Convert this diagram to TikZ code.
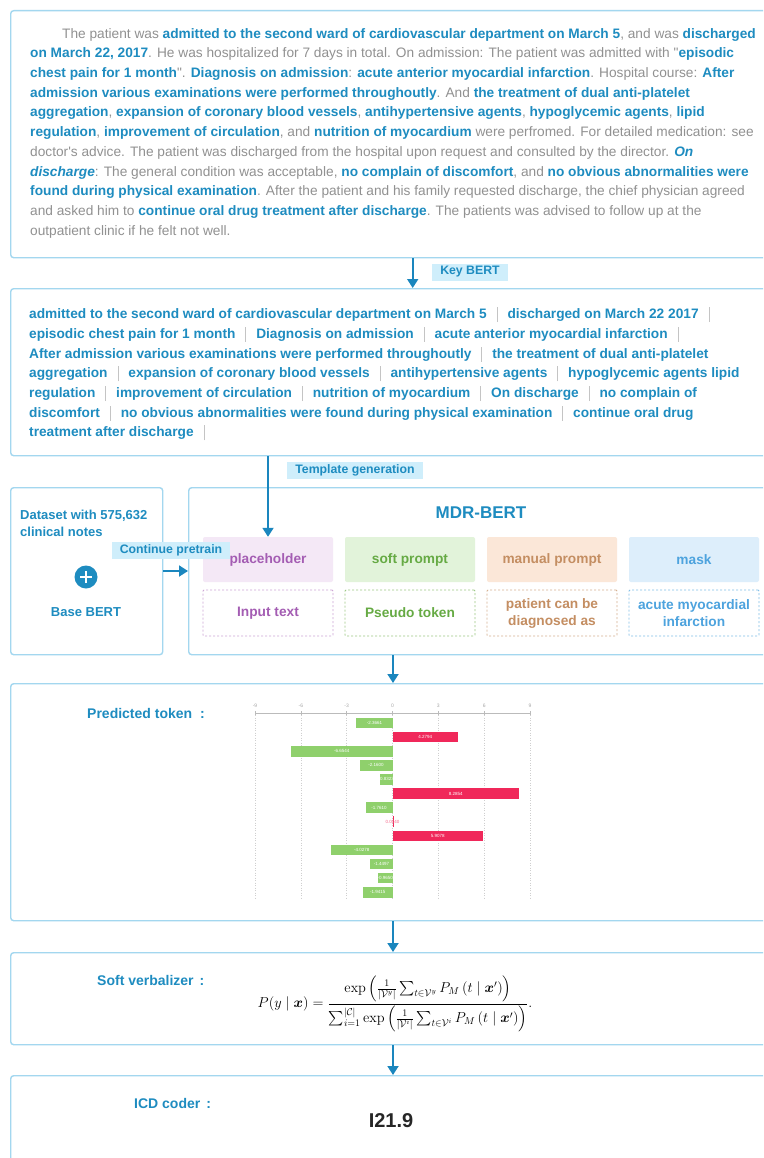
\documentclass[tikz,border=0pt]{standalone}
\usepackage[no-math]{fontspec}
\setmainfont{Liberation Sans}[Ligatures=TeXOff]
\usepackage{amsmath}
\usetikzlibrary{arrows.meta}

\definecolor{kblue}{HTML}{1E8CC0}
\definecolor{flowblue}{HTML}{1A86BE}
\definecolor{frame}{HTML}{A3D7EF}
\definecolor{tagfill}{HTML}{CFEEFB}
\definecolor{txtgray}{HTML}{919191}
\definecolor{sepgray}{HTML}{C4C4C4}
\definecolor{phfill}{HTML}{F4E8F6}
\definecolor{phtext}{HTML}{A45DB3}
\definecolor{spfill}{HTML}{E2F3DA}
\definecolor{sptext}{HTML}{66AA44}
\definecolor{mpfill}{HTML}{FBE7D8}
\definecolor{mptext}{HTML}{C48E62}
\definecolor{mkfill}{HTML}{DDEEFB}
\definecolor{mktext}{HTML}{4DA3DE}
\definecolor{barpos}{HTML}{F0285A}
\definecolor{barneg}{HTML}{8FD06C}
\definecolor{axisgray}{HTML}{BBBBBB}

% bold blue key phrase
\newcommand\kw[1]{\textbf{\color{kblue}#1}}
% separator between extracted phrases
\newcommand\sepbar{\hspace{10pt}{\color{sepgray}\rule[-3.5pt]{0.8pt}{15pt}}\hspace{10pt}}

\tikzset{
  panel/.style={draw=frame, line width=1.4pt, rounded corners=3pt, fill=white,
    inner sep=0pt, anchor=north west},
  txt/.style={inner sep=0pt, align=left, anchor=north west,
    font={\fontsize{13.7}{19.7}\selectfont}, text=txtgray},
  tag/.style={fill=tagfill, text=kblue, inner xsep=8pt, inner ysep=0pt,
    minimum height=17pt, font={\bfseries\fontsize{12.3}{14}\selectfont}},
  heading/.style={text=kblue, inner sep=0pt, anchor=west,
    font={\bfseries\fontsize{14}{17}\selectfont}},
  flow/.style={draw=flowblue, line width=1.8pt,
    -{Triangle[width=11pt,length=9pt]}},
  slot/.style={rounded corners=2pt, minimum width=130pt, minimum height=45pt,
    inner sep=0pt, align=center, font={\bfseries\fontsize{13.7}{17}\selectfont}},
  slotdash/.style={slot, line width=0.9pt, dash pattern=on 2pt off 2pt,
    rounded corners=1pt, minimum height=46pt},
  barlbl/.style={text=white, inner sep=0pt, font={\fontsize{4.5}{5}\selectfont}},
  ticklbl/.style={text=txtgray!80, inner sep=0pt, font={\fontsize{5}{6}\selectfont}},
}

\begin{document}
\begin{tikzpicture}[x=1pt,y=-1pt]
\useasboundingbox (0,0) rectangle (763,1158);
\clip (0,0) rectangle (763,1158);
\fill[white] (0,0) rectangle (763,1158);

% ---------- clinical note ----------
\node[panel, minimum width=770pt, minimum height=247pt] (src) at (10,10) {};
\node[txt] (srctext) at (30,28) {%
\hspace*{32pt}The patient was \kw{admitted to the second ward of cardiovascular department on March 5}, and was \kw{discharged}\\
\kw{on March 22, 2017}. He was hospitalized for 7 days in total. On admission: The patient was admitted with "\kw{episodic}\\
\kw{chest pain for 1 month}". \kw{Diagnosis on admission}: \kw{acute anterior myocardial infarction}. Hospital course: \kw{After}\\
\kw{admission various examinations were performed throughoutly}. And \kw{the treatment of dual anti-platelet}\\
\kw{aggregation}, \kw{expansion of coronary blood vessels}, \kw{antihypertensive agents}, \kw{hypoglycemic agents}, \kw{lipid}\\
\kw{regulation}, \kw{improvement of circulation}, and \kw{nutrition of myocardium} were perfromed. For detailed medication: see\\
doctor's advice. The patient was discharged from the hospital upon request and consulted by the director. \kw{\itshape On}\\
\kw{\itshape discharge}: The general condition was acceptable, \kw{no complain of discomfort}, and \kw{no obvious abnormalities were}\\
\kw{found during physical examination}. After the patient and his family requested discharge, the chief physician agreed\\
and asked him to \kw{continue oral drug treatment after discharge}. The patients was advised to follow up at the\\
outpatient clinic if he felt not well.};

% ---------- extracted key phrases ----------
\node[panel, minimum width=770pt, minimum height=167pt] (keys) at (10,288) {};
\node[txt, text=kblue, font={\bfseries\fontsize{13.7}{19.7}\selectfont}] (keytext) at (29,307) {%
admitted to the second ward of cardiovascular department on March 5\sepbar discharged on March 22 2017\sepbar\\
episodic chest pain for 1 month\sepbar Diagnosis on admission\sepbar acute anterior myocardial infarction\sepbar\\
After admission various examinations were performed throughoutly\sepbar the treatment of dual anti-platelet\\
aggregation\sepbar expansion of coronary blood vessels\sepbar antihypertensive agents\sepbar hypoglycemic agents lipid\\
regulation\sepbar improvement of circulation\sepbar nutrition of myocardium\sepbar On discharge\sepbar no complain of\\
discomfort\sepbar no obvious abnormalities were found during physical examination\sepbar continue oral drug\\
treatment after discharge\sepbar};

\draw[flow] ([xshift=17pt]src.south) -- ([xshift=17pt]keys.north);
\node[tag] (keybert) at (470,272) {Key BERT};

% ---------- pretraining corpus ----------
\node[panel, minimum width=152pt, minimum height=167pt] (ds) at (10,487) {};
\node[txt, text=kblue, font={\bfseries\fontsize{13}{17}\selectfont}] (dstext) at (20,510) {Dataset with 575,632\\clinical notes};
\node[circle, fill=kblue, minimum size=23pt, inner sep=0pt] (plus) at (86,577) {};
\draw[white, line width=2.6pt] ([xshift=-6pt]plus.center) -- ([xshift=6pt]plus.center)
  ([yshift=-6pt]plus.center) -- ([yshift=6pt]plus.center);
\node[text=kblue, inner sep=0pt, font={\bfseries\fontsize{13}{16}\selectfont}] (base) at (86,612) {Base BERT};

% ---------- prompt template ----------
\node[panel, minimum width=590pt, minimum height=167pt] (mdr) at (188,487) {};
\node[text=kblue, inner sep=0pt, font={\bfseries\fontsize{17}{20}\selectfont}] (mdrtitle) at (481,513) {MDR-BERT};

\node[slot, fill=phfill, text=phtext] (ph) at (268,559.5) {placeholder};
\node[slot, fill=spfill, text=sptext] (sp) at (410,559.5) {soft prompt};
\node[slot, fill=mpfill, text=mptext] (mp) at (552,559.5) {manual prompt};
\node[slot, fill=mkfill, text=mktext] (mk) at (694,559.5) {mask};

\node[slotdash, draw=phtext!55, text=phtext] (inp) at (268,613) {Input text};
\node[slotdash, draw=sptext!65, text=sptext] (pse) at (410,613) {Pseudo token};
\node[slotdash, draw=mptext!70, text=mptext] (man) at (552,613) {patient can be\\diagnosed as};
\node[slotdash, draw=mktext!70, text=mktext] (ans) at (694,613) {acute myocardial\\infarction};

\draw[flow] (keys.south -| ph.north) -- (ph.north);
\node[tag] (tmpl) at (355,470.5) {Template generation};

\coordinate (cp) at (0,571);
\draw[flow] (ds.east |- cp) -- (mdr.west |- cp);
\node[tag] (pretrain) at (171,550.5) {Continue pretrain};

% ---------- predicted token scores ----------
\node[panel, minimum width=770pt, minimum height=237pt] (chart) at (10,683) {};
\node[heading] (predlbl) at (87,713) {Predicted token\hspace{8pt}:};

\draw[axisgray, line width=0.6pt] (255,713) -- (530,713);
\foreach \t in {-9,-6,-3,0,3,6,9} {
  \draw[axisgray, line width=0.4pt] ({392.5+\t*15.28},711) -- ({392.5+\t*15.28},715);
  \draw[axisgray!70, line width=0.4pt, dash pattern=on 1pt off 1.5pt]
    ({392.5+\t*15.28},715) -- ({392.5+\t*15.28},898);
  \node[ticklbl] at ({392.5+\t*15.28},706) {\t};
}
\foreach \r/\v in {1/-2.3661,3/-6.6544,4/-2.1600,5/-0.8323,7/-1.7610,10/-4.0278,11/-1.4497,12/-0.9650,13/-1.9415} {
  \fill[barneg] ({392.5+(\v)*15.28},{723+(\r-1)*14.1-5.3}) rectangle (392.5,{723+(\r-1)*14.1+5.3});
  \node[barlbl] at ({392.5+(\v)*7.64},{723+(\r-1)*14.1}) {\v};
}
\foreach \r/\v in {2/4.2794,6/8.2854,9/5.9078} {
  \fill[barpos] (392.5,{723+(\r-1)*14.1-5.3}) rectangle ({392.5+(\v)*15.28},{723+(\r-1)*14.1+5.3});
  \node[barlbl] at ({392.5+(\v)*7.64},{723+(\r-1)*14.1}) {\v};
}
\fill[barpos] (392.5,{723+7*14.1-5.3}) rectangle (393.2,{723+7*14.1+5.3});
\node[barlbl, text=barpos!70] at (392.5,{723+7*14.1}) {0.0040};

% ---------- soft verbalizer ----------
\node[panel, minimum width=770pt, minimum height=92pt] (verb) at (10,952) {};
\node[heading] (verblbl) at (97,980) {Soft verbalizer\hspace{6pt}:};
\node[inner sep=0pt, font={\fontsize{14.8}{17}\selectfont}] (formula) at (395,1004)
  {$\displaystyle P(y\mid\boldsymbol{x})=\frac{\exp\left(\frac{1}{|\mathcal{V}^{y}|}\sum_{t\in\mathcal{V}^{y}}P_M\left(t\mid\boldsymbol{x}'\right)\right)}{\sum_{i=1}^{|\mathcal{C}|}\exp\left(\frac{1}{|\mathcal{V}^{i}|}\sum_{t\in\mathcal{V}^{i}}P_M\left(t\mid\boldsymbol{x}'\right)\right)}.$};

% ---------- ICD code ----------
\node[panel, minimum width=770pt, minimum height=100pt] (icd) at (10,1075) {};
\node[heading] (icdlbl) at (134,1103) {ICD coder\hspace{6pt}:};
\node[inner sep=0pt, text=black!85, font={\bfseries\fontsize{20}{24}\selectfont}] (code) at (391,1121) {I21.9};

% ---------- flow between stages ----------
\coordinate (col) at (393,0);
\draw[flow] (mdr.south -| col) -- (chart.north -| col);
\draw[flow] (chart.south -| col) -- (verb.north -| col);
\draw[flow] (verb.south -| col) -- (icd.north -| col);
\end{tikzpicture}
\end{document}
